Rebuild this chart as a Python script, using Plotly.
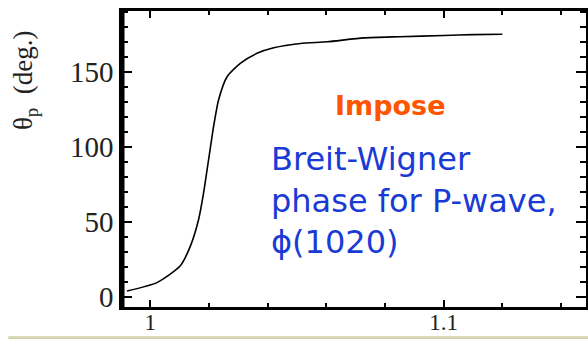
import plotly.graph_objects as go

# Data
mass = [0.9921, 1.0023, 1.0102, 1.0137, 1.0165, 1.0182, 1.0199, 1.0216, 1.0233,
        1.0262, 1.0307, 1.0364, 1.0421, 1.0512, 1.0603, 1.0728, 1.0850, 1.1001, 1.1100, 1.1200]
theta = [3.7, 9.3, 20.4, 33.7, 51.5, 69.3, 91.5, 113.7, 131.5,
         147.0, 156.0, 162.7, 166.4, 169.3, 170.4, 173.0, 173.8, 174.6, 175.2, 175.4]

x_tick0, x_dtick = 1.0, 0.1
y_tick0, y_dtick = 0, 50

fig = go.Figure()
fig.add_trace(go.Scatter(x=mass, y=theta, mode="lines",
                         line=dict(color="black", width=1.6, shape="spline", smoothing=0.6),
                         showlegend=False, hoverinfo="skip"))

serif = "Liberation Serif, Times New Roman, serif"

fig.update_layout(
    width=588, height=339,
    margin=dict(l=122, r=2, t=11, b=32),
    paper_bgcolor="white", plot_bgcolor="white",
    xaxis=dict(range=[0.9904, 1.1485], tickmode="linear", tick0=x_tick0, dtick=x_dtick,
               ticks="inside", ticklen=7, tickwidth=2, tickcolor="black",
               minor=dict(ticks="inside", dtick=0.02, tick0=1.0, ticklen=4, tickwidth=2, tickcolor="black"),
               showline=True, linecolor="black", linewidth=3, mirror="allticks",
               showgrid=False, zeroline=False, automargin=False, ticklabelstandoff=-8,
               tickfont=dict(family=serif, size=23, color="#222")),
    yaxis=dict(range=[-7, 191], tickmode="linear", tick0=y_tick0, dtick=y_dtick,
               ticks="inside", ticklen=10, tickwidth=2, tickcolor="black",
               minor=dict(ticks="inside", dtick=10, tick0=0, ticklen=6, tickwidth=2, tickcolor="black"),
               showline=True, linecolor="black", linewidth=2.5, mirror="allticks",
               showgrid=False, zeroline=False, automargin=False,
               tickfont=dict(family=serif, size=29, color="#222")),
    shapes=[
        dict(type="line", xref="paper", yref="paper", x0=0, x1=0, y0=-0.01, y1=1.01,
             line=dict(color="black", width=5)),
        dict(type="line", xref="paper", yref="paper", x0=-0.245, x1=1.01, y0=-0.104, y1=-0.104,
             line=dict(color="#d2d2ae", width=3)),
    ],
    annotations=[
        dict(text="θ<sub>p</sub>  (deg.)", xref="paper", yref="paper", x=-0.21, y=0.765,
             xanchor="center", yanchor="middle", textangle=-90, showarrow=False,
             font=dict(family=serif, size=27, color="#222")),
        dict(text="<b>Impose</b>", xref="paper", yref="paper", x=0.578, y=0.68,
             xanchor="center", yanchor="middle", showarrow=False,
             font=dict(family="DejaVu Sans, Verdana, sans-serif", size=27, color="#ff5500")),
        dict(text="Breit-Wigner<br>phase for P-wave,<br>ϕ(1020)", xref="paper", yref="paper",
             x=0.316, y=0.57, xanchor="left", yanchor="top", align="left", showarrow=False,
             font=dict(family="DejaVu Sans, Verdana, sans-serif", size=32, color="#1a3ad6")),
    ],
)

fig.write_html("out.html")
